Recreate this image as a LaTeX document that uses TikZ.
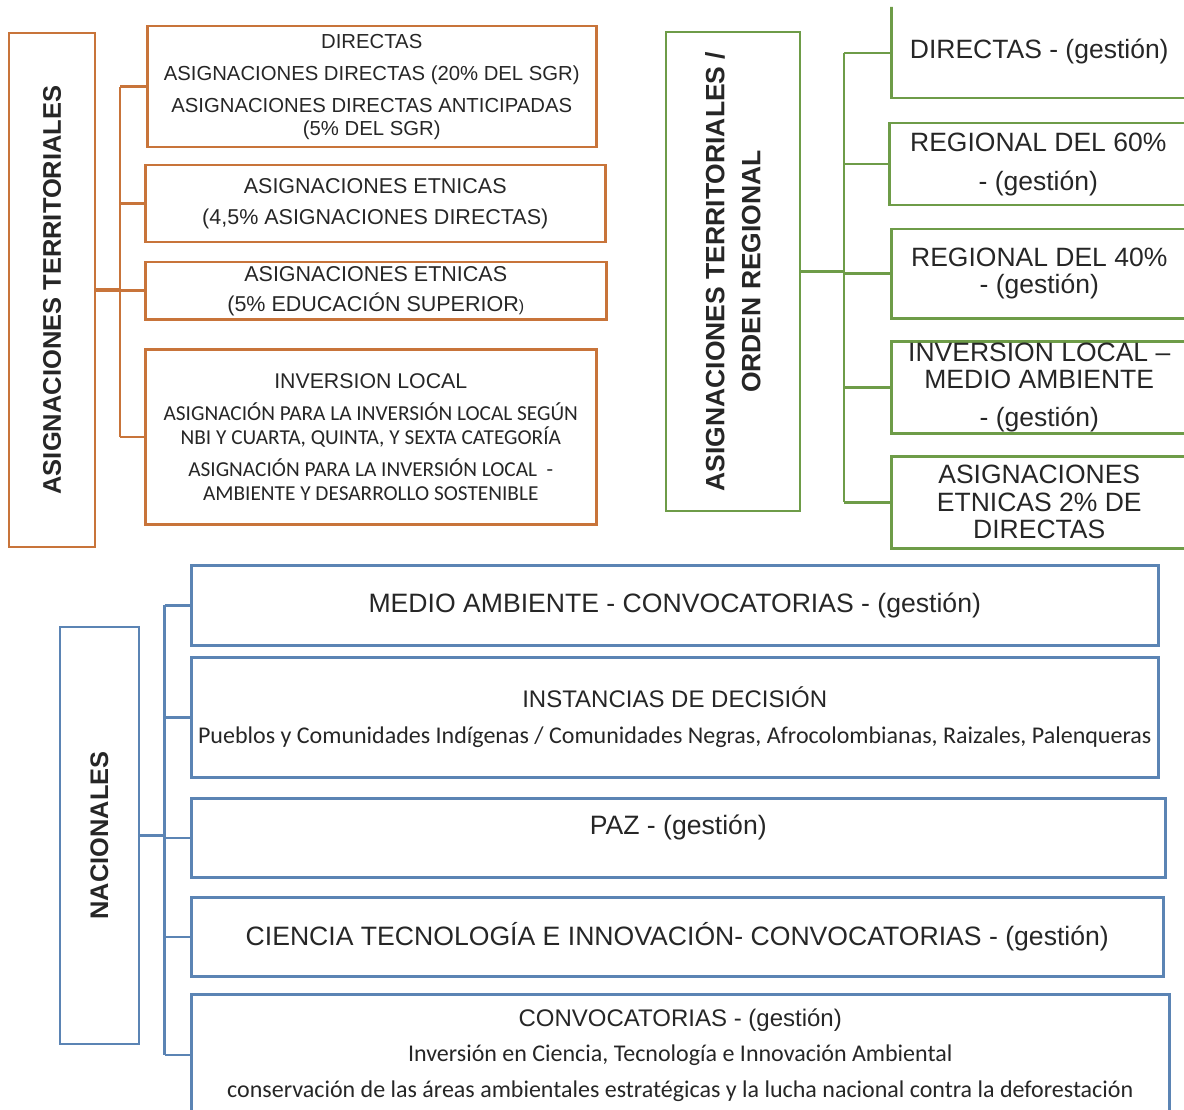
\documentclass[tikz,border=0pt]{standalone}
\usepackage{fontspec}
\setmainfont{Liberation Sans}
\newfontfamily\calfont{Carlito}
\usepackage{tikz}
\usetikzlibrary{calc}
\definecolor{cOrange}{HTML}{C8743A}
\definecolor{cGreen}{HTML}{6E9C48}
\definecolor{cBlue}{HTML}{5B84B4}
\definecolor{cText}{HTML}{262626}
\tikzset{
  box/.style={
    rectangle, draw=#1, line width=2.5pt, inner sep=0pt,
    align=center, text=cText
  },
  obox/.style={box=cOrange},
  gbox/.style={box=cGreen},
  bbox/.style={box=cBlue},
  link/.style={line width=2.5pt, draw=#1},
  rootlink/.style={line width=3.5pt, draw=#1},
}

\begin{document}
\begin{tikzpicture}[x=1pt, y=-1pt]

  \useasboundingbox (0,0) rectangle (1184,1110);
  \clip (0,0) -| (870,7) -| (1184,1110) -| cycle;

  % Territoriales (orange)
  \node[obox, rotate=90, minimum width=514pt, minimum height=86pt,
        font=\fontsize{25.5}{30}\selectfont\bfseries] (oroot) at (52,290)
    {ASIGNACIONES TERRITORIALES};
  \node[obox, anchor=north west, minimum width=449pt, minimum height=121pt,
        font=\fontsize{20.3}{23}\selectfont] (odir) at (146,25) {
    DIRECTAS\\[9pt]
    ASIGNACIONES DIRECTAS (20\% DEL SGR)\\[9pt]
    ASIGNACIONES DIRECTAS ANTICIPADAS\\
    (5\% DEL SGR)
  };
  \node[obox, anchor=north west, minimum width=460pt, minimum height=77pt,
        font=\fontsize{21.5}{31}\selectfont] (oet1) at (144,164) {
    ASIGNACIONES ETNICAS\\
    (4,5\% ASIGNACIONES DIRECTAS)
  };
  \node[obox, anchor=north west, minimum width=461pt, minimum height=57pt,
        font=\fontsize{21.5}{30}\selectfont] (oet2) at (144,261) {
    ASIGNACIONES ETNICAS\\
    (5\% EDUCACIÓN SUPERIOR{\fontsize{16}{18}\selectfont)}
  };
  \node[obox, anchor=north west, minimum width=451pt, minimum height=175pt,
        font=\fontsize{21.3}{24}\selectfont] (oinv) at (144,348) {
    INVERSION LOCAL\\[8pt]
    {\calfont ASIGNACIÓN PARA LA INVERSIÓN LOCAL SEGÚN}\\
    {\calfont NBI Y CUARTA, QUINTA, Y SEXTA CATEGORÍA}\\[8pt]
    {\calfont ASIGNACIÓN PARA LA INVERSIÓN LOCAL\ \ -}\\
    {\calfont AMBIENTE Y DESARROLLO SOSTENIBLE}
  };

  % Orden regional (green)
  \node[gbox, rotate=90, minimum width=479pt, minimum height=134pt,
        font=\fontsize{26.5}{36}\selectfont\bfseries] (groot) at (733,271.5) {
    ASIGNACIONES TERRITORIALES /\\
    ORDEN REGIONAL
  };
  \node[gbox, anchor=north west, minimum width=296pt, minimum height=93pt,
        font=\fontsize{26.5}{27}\selectfont] (gdir) at (890,4)
    {DIRECTAS - (gestión)};
  \node[gbox, anchor=north west, minimum width=298pt, minimum height=82pt,
        font=\fontsize{26.5}{27}\selectfont] (g60) at (888,122)
    {REGIONAL DEL 60\%\\[12pt] - (gestión)};
  \node[gbox, anchor=north west, minimum width=296pt, minimum height=89pt,
        font=\fontsize{26.5}{27}\selectfont] (g40) at (890,228)
    {REGIONAL DEL 40\%\\ - (gestión)};
  \node[gbox, anchor=north west, minimum width=296pt, minimum height=92pt,
        font=\fontsize{26.5}{27}\selectfont] (gamb) at (890,340)
    {INVERSION LOCAL –\\ MEDIO AMBIENTE\\[11pt] - (gestión)};
  \node[gbox, anchor=north west, minimum width=296pt, minimum height=92pt,
        font=\fontsize{26.5}{27.5}\selectfont] (getn) at (890,455)
    {ASIGNACIONES\\ ETNICAS 2\% DE\\ DIRECTAS};

  % Nacionales (blue)
  \node[bbox, rotate=90, minimum width=417pt, minimum height=79pt,
        font=\fontsize{25.4}{30}\selectfont\bfseries] (broot) at (99.5,835.5)
    {NACIONALES};
  \node[bbox, anchor=north west, minimum width=967pt, minimum height=80pt,
        font=\fontsize{26.6}{30}\selectfont] (bamb) at (190,564)
    {MEDIO AMBIENTE - CONVOCATORIAS - (gestión)};
  \node[bbox, anchor=north west, minimum width=967pt, minimum height=120pt,
        font=\fontsize{24}{36}\selectfont] (binst) at (190,656) {
    INSTANCIAS DE DECISIÓN\\
    {\calfont Pueblos y Comunidades Indígenas / Comunidades Negras, Afrocolombianas, Raizales, Palenqueras}
  };
  \node[bbox, anchor=north west, minimum width=974pt, minimum height=79pt,
        text height=19.5pt, text depth=25.5pt,
        font=\fontsize{26.6}{30}\selectfont] (bpaz) at (190,797)
    {PAZ - (gestión)};
  \node[bbox, anchor=north west, minimum width=972pt, minimum height=79pt,
        font=\fontsize{26.6}{30}\selectfont] (bcti) at (190,896)
    {CIENCIA TECNOLOGÍA E INNOVACIÓN- CONVOCATORIAS - (gestión)};
  \node[bbox, anchor=north west, minimum width=978pt, minimum height=121pt,
        font=\fontsize{24}{35.5}\selectfont] (bconv) at (190,993) {
    CONVOCATORIAS - (gestión)\\
    {\calfont Inversión en Ciencia, Tecnología e Innovación Ambiental}\\
    {\calfont conservación de las áreas ambientales estratégicas y la lucha nacional contra la deforestación}
  };

  % Connectors
  \coordinate (ojoin) at (120,290);
  \coordinate (gjoin) at (844,271.5);
  \coordinate (bjoin) at (164.5,835.5);

  \draw[rootlink=cOrange] (oroot.south) -- (ojoin);
  \draw[link=cOrange] (ojoin |- odir.west) -- (ojoin |- oinv.west);
  \foreach \n in {odir, oet1, oet2, oinv}
    \draw[link=cOrange] (ojoin |- \n.west) -- (\n.west);

  \draw[rootlink=cGreen] (groot.south) -- (gjoin);
  \draw[link=cGreen] ($(gjoin |- gdir.west)+(0,1.5)$) -- (gjoin |- getn.west);
  \draw[link=cGreen] ($(gjoin |- gdir.west)+(0,1.5)$) -- ($(gdir.west)+(0,1.5)$);
  \foreach \n in {g60, g40, gamb, getn}
    \draw[link=cGreen] (gjoin |- \n.west) -- (\n.west);

  \draw[rootlink=cBlue] (broot.south) -- (bjoin);
  \draw[link=cBlue] (bjoin |- bamb.west) -- (bjoin |- bconv.west);
  \foreach \n in {bamb, binst, bpaz, bcti, bconv}
    \draw[link=cBlue] (bjoin |- \n.west) -- (\n.west);

\end{tikzpicture}
\end{document}
